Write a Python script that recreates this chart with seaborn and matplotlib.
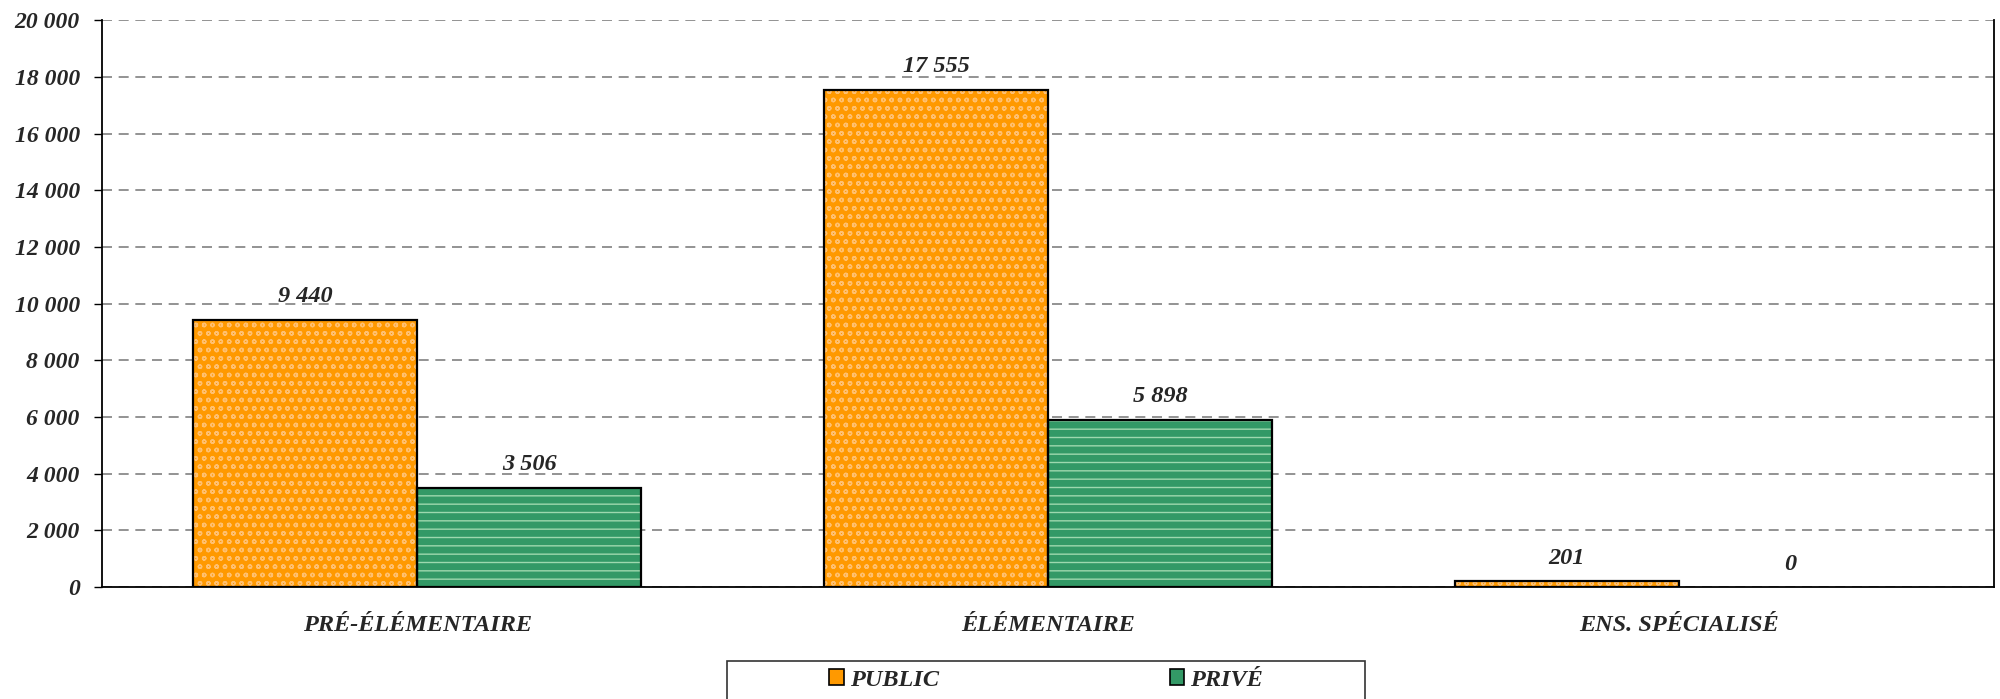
import pandas as pd
import matplotlib.pyplot as plt
import seaborn as sns
from matplotlib.patches import Rectangle, Patch
from matplotlib.ticker import FuncFormatter, FixedLocator

categories = ['PRÉ-ÉLÉMENTAIRE', 'ÉLÉMENTAIRE', 'ENS. SPÉCIALISÉ']
public = [9440, 17555, 201]
prive = [3506, 5898, 0]
series = ['PUBLIC', 'PRIVÉ']

colors = {'PUBLIC': '#FF9900', 'PRIVÉ': '#339966'}
hatch_colors = {'PUBLIC': '#FFC070', 'PRIVÉ': '#9ED8AE'}
hatches = {'PUBLIC': 'oo', 'PRIVÉ': '--'}

df = pd.DataFrame({
    'categorie': categories * 2,
    'secteur': ['PUBLIC'] * 3 + ['PRIVÉ'] * 3,
    'effectif': public + prive,
})

sns.set_style('white')
plt.rcParams['font.family'] = ['Liberation Serif', 'DejaVu Serif']
plt.rcParams['font.weight'] = 'bold'
plt.rcParams['font.style'] = 'italic'
plt.rcParams['hatch.linewidth'] = 1.0

fig = plt.figure(figsize=(20, 6.99), dpi=100)
ax = fig.add_axes([0.051, 0.160, 0.946, 0.811])

sns.barplot(data=df, x='categorie', y='effectif', hue='secteur', order=categories,
            hue_order=series, palette=colors, width=0.71, ax=ax, legend=False,
            saturation=1)

fmt = lambda v, p=None: f'{int(v):,}'.replace(',', ' ')

for cont, s in zip(ax.containers, series):
    for bar in cont:
        bar.set_hatch(hatches[s])
        bar.set_edgecolor(hatch_colors[s])
        bar.set_linewidth(0)
        # contour noir des barres (pas pour les barres vides)
        if bar.get_height() > 0:
            ax.add_patch(Rectangle((bar.get_x(), bar.get_y()), bar.get_width(), bar.get_height(),
                                   fill=False, edgecolor='black', linewidth=1.6, zorder=3))
    ax.bar_label(cont, labels=[fmt(v) for v in cont.datavalues], padding=9, fontsize=17.5,
                 fontweight='bold', fontstyle='italic')

ax.set_ylim(0, 20000)
ax.set_xlim(-0.5, 2.5)
ax.set_yticks(range(0, 20001, 2000))
ax.yaxis.set_major_formatter(FuncFormatter(fmt))
ax.grid(axis='y', linestyle=(0, (6, 4)), color='#808080', linewidth=1.2)
ax.set_axisbelow(True)

ax.xaxis.set_minor_locator(FixedLocator([-0.5, 0.5, 1.5, 2.5]))
ax.tick_params(axis='x', which='major', length=0, pad=20, labelsize=17.5)
ax.tick_params(axis='x', which='minor', length=6, width=1, color='black', direction='out')
ax.tick_params(axis='y', length=6, width=1, color='black', direction='out', pad=10, labelsize=17,
               left=True)
ax.set_xlabel('')
ax.set_ylabel('')

for side in ['left', 'bottom', 'right']:
    ax.spines[side].set_visible(True)
    ax.spines[side].set_color('black')
    ax.spines[side].set_linewidth(1.3)
ax.spines['top'].set_visible(False)

handles = [Patch(facecolor=colors[s], edgecolor='black', linewidth=1.2) for s in series]
fig.legend(handles, series, loc='center', bbox_to_anchor=(0.523, 0.027), ncol=2,
           frameon=False, fontsize=17.5, handlelength=0.6, handleheight=0.6,
           handletextpad=0.25, columnspacing=9.5)
fig.add_artist(Rectangle((0.3635, -0.05), 0.319, 0.1044, transform=fig.transFigure,
                         fill=False, edgecolor='#333333', linewidth=1.2))

plt.savefig('out.png')
